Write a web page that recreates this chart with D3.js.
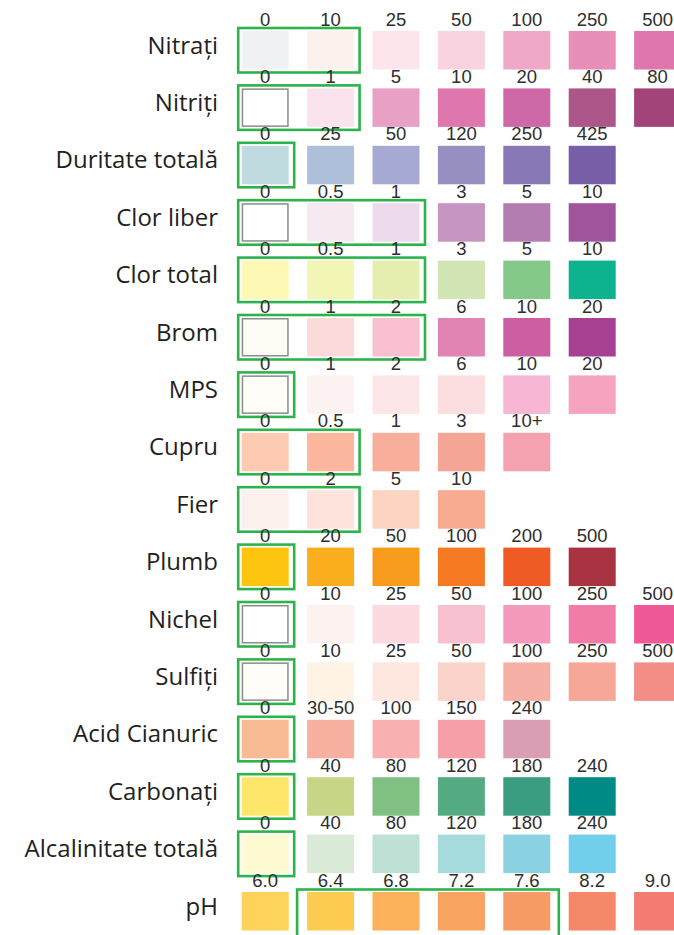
<!DOCTYPE html>
<html><head><meta charset="utf-8">
<script src="https://cdn.jsdelivr.net/npm/d3@7"></script>
<style>html,body{margin:0;padding:0;background:#fff;overflow:hidden}</style>
</head><body>
<script>
const parameters = ["Nitrați","Nitriți","Duritate totală","Clor liber","Clor total","Brom","MPS","Cupru","Fier","Plumb","Nichel","Sulfiți","Acid Cianuric","Carbonați","Alcalinitate totală","pH"];
const valueLabels = [
  ["0","10","25","50","100","250","500"],
  ["0","1","5","10","20","40","80"],
  ["0","25","50","120","250","425"],
  ["0","0.5","1","3","5","10"],
  ["0","0.5","1","3","5","10"],
  ["0","1","2","6","10","20"],
  ["0","1","2","6","10","20"],
  ["0","0.5","1","3","10+"],
  ["0","2","5","10"],
  ["0","20","50","100","200","500"],
  ["0","10","25","50","100","250","500"],
  ["0","10","25","50","100","250","500"],
  ["0","30-50","100","150","240"],
  ["0","40","80","120","180","240"],
  ["0","40","80","120","180","240"],
  ["6.0","6.4","6.8","7.2","7.6","8.2","9.0"]
];
const swatchColors = [
  ["#f0f1f3","#fbf2ee","#fce6ec","#f9d4e0","#f0a8c9","#e88fb7","#e077ac"],
  ["#ffffff","#fae3ec","#e8a0c5","#e076ae","#cf68a7","#ac5689","#a24379"],
  ["#bfdbe0","#adbfd9","#a7a9d5","#978fc2","#8879b6","#775ea6"],
  ["#ffffff","#f6eaf2","#eddbeb","#c696c3","#b47daf","#a0549e"],
  ["#fdf8b4","#f3f5b5","#e6eeaf","#d2e5b4","#84c98a","#0db28f"],
  ["#fefdf5","#fbdbd9","#f8bfd0","#e084b4","#cc5fa2","#a73f93"],
  ["#fffdf8","#fdf2f2","#fde6e7","#fcdde0","#f6b6d4","#f5a3be"],
  ["#fccbb1","#fab79e","#f7af9c","#f5a596","#f4a1b0"],
  ["#fbf1ec","#fde3db","#fdd3c2","#f9ab91"],
  ["#fdc410","#f9ae1d","#f89c1e","#f47922","#f05a24","#a93340"],
  ["#ffffff","#fcf2f0","#fbdbdf","#f8c1d0","#f49bbd","#f17ca8","#ef5a96"],
  ["#fffdf8","#fef3e5","#fde7df","#fad4cb","#f6b0a5","#f7a797","#f28d87"],
  ["#f8bb94","#f8b0a0","#f8b0b1","#f5a0a9","#d99eb3"],
  ["#fee66b","#c6d686","#80c083","#54ab82","#3a9c80","#008b87"],
  ["#fefbd3","#d9ebd7","#bde2d5","#a5dbdc","#8ad2e1","#72cfec"],
  ["#fdd35a","#fdcb4f","#fbb25b","#f8a35f","#f69a66","#f48868","#f27c72"]
];
// recommended range (first and last swatch index inside the green frame)
const idealRange = [[0,1],[0,1],[0,0],[0,2],[0,2],[0,2],[0,0],[0,1],[0,1],[0,0],[0,0],[0,0],[0,0],[0,0],[0,0],[1,4]];
// swatches drawn with a grey outline (blank/white reference pads)
const outlinedSwatch = [null,0,null,0,null,0,0,null,null,null,0,0,null,null,null,null];

const W = 674, H = 935;
const svg = d3.select("body").append("svg").attr("width", W).attr("height", H);

const colStep = 65.4, sw = 47;
const x = d3.scaleBand().domain(d3.range(7))
  .range([241.7, 241.7 + colStep*6 + sw]).paddingInner((colStep-sw)/colStep).paddingOuter(0);
const rowStep = 57.4, sh = 38.5;
const y = d3.scaleBand().domain(parameters)
  .range([31, 31 + rowStep*15 + sh]).paddingInner((rowStep-sh)/rowStep).paddingOuter(0);

const rowsG = svg.selectAll("g.row").data(parameters).join("g").attr("class","row");

rowsG.each(function(p, i){
  const g = d3.select(this);
  const top = y(p);
  const cells = swatchColors[i].map((c, j) => ({c, j, label: valueLabels[i][j]}));
  g.selectAll("rect.sw").data(cells).join("rect").attr("class","sw")
    .attr("x", d => x(d.j)).attr("y", top)
    .attr("width", x.bandwidth()).attr("height", y.bandwidth())
    .attr("fill", d => d.c);
  if (outlinedSwatch[i] !== null) {
    const j = outlinedSwatch[i];
    g.append("rect").attr("x", x(j)+0.75).attr("y", top+0.75)
      .attr("width", x.bandwidth()-1.5).attr("height", y.bandwidth()-1.5)
      .attr("fill","none").attr("stroke","#8c8c8c").attr("stroke-width",1.5);
  }
  // parameter name
  g.append("text").attr("x", 218).attr("y", top + 22.5)
    .attr("text-anchor","end")
    .attr("font-family","'Open Sans', Lato, sans-serif")
    .attr("font-size", 24).attr("fill","#231f20").text(p);
  // green ideal-range frame
  const [a, b] = idealRange[i];
  const last = i === parameters.length - 1;
  const padL = last ? 10 : 3.5, padR = last ? 8.5 : 5.5;
  g.append("rect")
    .attr("x", x(a) - padL).attr("y", top - (last ? 2.5 : 3))
    .attr("width", x(b) + x.bandwidth() + padR - (x(a) - padL))
    .attr("height", y.bandwidth() + (last ? 20 : 6))
    .attr("fill","none").attr("stroke","#2db34b").attr("stroke-width",2.6);
  // value labels
  g.selectAll("text.val").data(cells).join("text").attr("class","val")
    .attr("x", d => x(d.j) + x.bandwidth()/2).attr("y", top - 5.5)
    .attr("text-anchor","middle")
    .attr("font-family","'Liberation Sans', Arial, sans-serif")
    .attr("font-size", 18.5).attr("fill","#2e2e2e")
    .text(d => d.label);
});
</script>
</body></html>
